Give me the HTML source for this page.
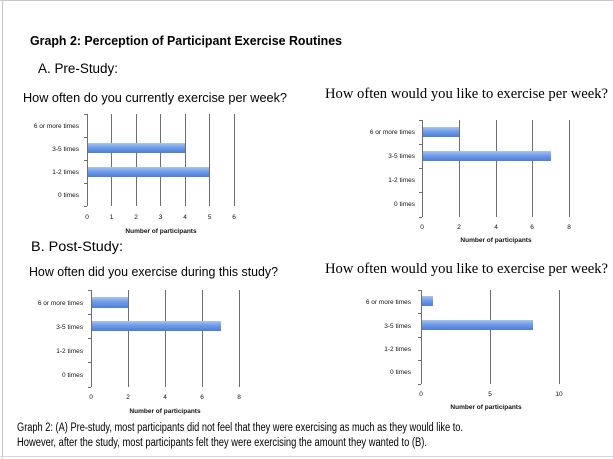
<!DOCTYPE html>
<html><head><meta charset="utf-8"><style>
html,body{margin:0;padding:0;background:#fff;}
svg{display:block;}
.s{font-family:"Liberation Sans",sans-serif;}
.r{font-family:"Liberation Serif",serif;}
.t{font-family:"Liberation Sans",sans-serif;font-size:6.5px;fill:#111;}
.g{stroke:#6e6e6e;stroke-width:1;shape-rendering:crispEdges;}
</style></head><body>
<svg width="613" height="459" viewBox="0 0 613 459" xmlns="http://www.w3.org/2000/svg">
<defs><linearGradient id="b" x1="0" y1="0" x2="0" y2="1">
<stop offset="0" stop-color="#a9c6f2"/><stop offset="0.45" stop-color="#6f9ae6"/><stop offset="1" stop-color="#4e7fd4"/></linearGradient></defs>
<rect x="0" y="0" width="613" height="459" fill="#fff"/>
<line x1="0" y1="0.5" x2="613" y2="0.5" stroke="#c8c8c8"/>
<line x1="2.5" y1="0" x2="2.5" y2="459" stroke="#c8c8c8"/>
<line x1="0" y1="456.5" x2="613" y2="456.5" stroke="#d8d8d8"/>

<text x="30" y="45" class="s" font-size="13" font-weight="bold" textLength="312" lengthAdjust="spacingAndGlyphs">Graph 2: Perception of Participant Exercise Routines</text>
<text x="38" y="73" class="s" font-size="13.5" textLength="80" lengthAdjust="spacingAndGlyphs">A. Pre-Study:</text>
<text x="23" y="102" class="s" font-size="13" textLength="264" lengthAdjust="spacingAndGlyphs">How often do you currently exercise per week?</text>
<text x="325" y="98" class="r" font-size="14.5" textLength="283" lengthAdjust="spacingAndGlyphs">How often would you like to exercise per week?</text>
<text x="31" y="251" class="s" font-size="13.5" textLength="92" lengthAdjust="spacingAndGlyphs">B. Post-Study:</text>
<text x="29" y="276" class="s" font-size="13" textLength="249" lengthAdjust="spacingAndGlyphs">How often did you exercise during this study?</text>
<text x="325" y="273" class="r" font-size="14.5" textLength="283" lengthAdjust="spacingAndGlyphs">How often would you like to exercise per week?</text>
<text x="17" y="431" class="s" font-size="11.5" textLength="446" lengthAdjust="spacingAndGlyphs">Graph 2: (A) Pre-study, most participants did not feel that they were exercising as much as they would like to.</text>
<text x="17" y="446" class="s" font-size="11.5" textLength="410" lengthAdjust="spacingAndGlyphs">However, after the study, most participants felt they were exercising the amount they wanted to (B).</text>

<!-- Chart 1 -->
<g class="g">
<line x1="87.5" y1="114" x2="87.5" y2="206"/><line x1="111.5" y1="114" x2="111.5" y2="206"/><line x1="136.5" y1="114" x2="136.5" y2="206"/><line x1="160.5" y1="114" x2="160.5" y2="206"/><line x1="185.5" y1="114" x2="185.5" y2="206"/><line x1="209.5" y1="114" x2="209.5" y2="206"/><line x1="234.5" y1="114" x2="234.5" y2="206"/>
<line x1="84" y1="114.5" x2="87" y2="114.5"/><line x1="84" y1="137.5" x2="87" y2="137.5"/><line x1="84" y1="160.5" x2="87" y2="160.5"/><line x1="84" y1="183.5" x2="87" y2="183.5"/><line x1="84" y1="206.5" x2="87" y2="206.5"/>
</g>
<rect x="88" y="143" width="97" height="10" fill="url(#b)"/>
<rect x="88" y="167" width="121" height="10" fill="url(#b)"/>
<g class="t" text-anchor="end"><text x="79" y="128">6 or more times</text><text x="79" y="151">3-5 times</text><text x="79" y="174">1-2 times</text><text x="79" y="197">0 times</text></g>
<g class="t" text-anchor="middle"><text x="87" y="219">0</text><text x="111.5" y="219">1</text><text x="136" y="219">2</text><text x="160.5" y="219">3</text><text x="185" y="219">4</text><text x="209.5" y="219">5</text><text x="234" y="219">6</text>
<text x="161" y="233" font-weight="bold">Number of participants</text></g>

<!-- Chart 2 -->
<g class="g">
<line x1="422.5" y1="120" x2="422.5" y2="217"/><line x1="459.5" y1="120" x2="459.5" y2="217"/><line x1="496.5" y1="120" x2="496.5" y2="217"/><line x1="532.5" y1="120" x2="532.5" y2="217"/><line x1="569.5" y1="120" x2="569.5" y2="217"/>
<line x1="419" y1="120.5" x2="422" y2="120.5"/><line x1="419" y1="144.5" x2="422" y2="144.5"/><line x1="419" y1="168.5" x2="422" y2="168.5"/><line x1="419" y1="192.5" x2="422" y2="192.5"/><line x1="419" y1="217.5" x2="422" y2="217.5"/>
</g>
<rect x="423" y="127" width="36" height="10" fill="url(#b)"/>
<rect x="423" y="151" width="128" height="10" fill="url(#b)"/>
<g class="t" text-anchor="end"><text x="415" y="134">6 or more times</text><text x="415" y="158">3-5 times</text><text x="415" y="182">1-2 times</text><text x="415" y="206">0 times</text></g>
<g class="t" text-anchor="middle"><text x="422" y="229">0</text><text x="459" y="229">2</text><text x="496" y="229">4</text><text x="532" y="229">6</text><text x="569" y="229">8</text>
<text x="496" y="242" font-weight="bold">Number of participants</text></g>

<!-- Chart 3 -->
<g class="g">
<line x1="91.5" y1="290" x2="91.5" y2="387"/><line x1="128.5" y1="290" x2="128.5" y2="387"/><line x1="165.5" y1="290" x2="165.5" y2="387"/><line x1="202.5" y1="290" x2="202.5" y2="387"/><line x1="239.5" y1="290" x2="239.5" y2="387"/>
<line x1="88" y1="290.5" x2="91" y2="290.5"/><line x1="88" y1="314.5" x2="91" y2="314.5"/><line x1="88" y1="338.5" x2="91" y2="338.5"/><line x1="88" y1="362.5" x2="91" y2="362.5"/><line x1="88" y1="387.5" x2="91" y2="387.5"/>
</g>
<rect x="92" y="297" width="36" height="11" fill="url(#b)"/>
<rect x="92" y="321" width="129" height="10" fill="url(#b)"/>
<g class="t" text-anchor="end"><text x="83" y="305">6 or more times</text><text x="83" y="329">3-5 times</text><text x="83" y="353">1-2 times</text><text x="83" y="377">0 times</text></g>
<g class="t" text-anchor="middle"><text x="91" y="399">0</text><text x="128" y="399">2</text><text x="165" y="399">4</text><text x="202" y="399">6</text><text x="239" y="399">8</text>
<text x="165" y="413" font-weight="bold">Number of participants</text></g>

<!-- Chart 4 -->
<g class="g">
<line x1="421.5" y1="290" x2="421.5" y2="384"/><line x1="490.5" y1="290" x2="490.5" y2="384"/><line x1="559.5" y1="290" x2="559.5" y2="384"/>
<line x1="418" y1="290.5" x2="421" y2="290.5"/><line x1="418" y1="313.5" x2="421" y2="313.5"/><line x1="418" y1="337.5" x2="421" y2="337.5"/><line x1="418" y1="360.5" x2="421" y2="360.5"/><line x1="418" y1="384.5" x2="421" y2="384.5"/>
</g>
<rect x="422" y="296" width="11" height="10" fill="url(#b)"/>
<rect x="422" y="320" width="111" height="10" fill="url(#b)"/>
<g class="t" text-anchor="end"><text x="411" y="304">6 or more times</text><text x="411" y="328">3-5 times</text><text x="411" y="351">1-2 times</text><text x="411" y="374">0 times</text></g>
<g class="t" text-anchor="middle"><text x="421" y="396">0</text><text x="490" y="396">5</text><text x="559" y="396">10</text>
<text x="486" y="409" font-weight="bold">Number of participants</text></g>
</svg>
</body></html>
